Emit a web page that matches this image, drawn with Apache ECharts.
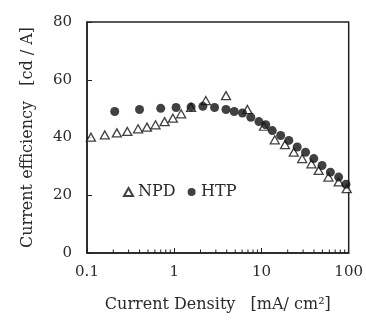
<!DOCTYPE html>
<html lang="en">
<head>
    <meta charset="utf-8" />
    <title>Current efficiency</title>
    <script type="text/javascript" src="https://cdn.jsdelivr.net/npm/echarts@6/dist/echarts.min.js"></script>
    <style type="text/css">
        html, body { margin: 0; padding: 0; background: #fff; }
    </style>
</head>
<body>
    <div id="main" style="width:366px;height:321px;"></div>
    <script type="text/javascript">
        // NPD (open triangles)
        var npd_x = [0.111, 0.16, 0.22, 0.29, 0.385, 0.487, 0.61, 0.775, 0.965, 1.2, 1.56, 2.3, 3.92, 6.9, 10.7, 14.2, 18.6, 23.5, 29.3, 37.4, 45.3, 58.6, 76.7, 95];
        var npd_y = [40.1, 40.9, 41.6, 42.1, 43.0, 43.6, 44.4, 45.5, 46.7, 48.2, 50.4, 52.8, 54.5, 49.7, 43.9, 39.2, 37.5, 34.9, 32.7, 30.9, 28.6, 26.3, 24.6, 22.3];
        // HTP (filled circles)
        var htp_x = [0.208, 0.40, 0.70, 1.05, 1.56, 2.13, 2.9, 3.92, 4.87, 6.06, 7.55, 9.35, 11.2, 13.3, 16.6, 20.6, 25.7, 32, 39.8, 49.5, 61.7, 76.7, 93];
        var htp_y = [49.0, 49.7, 50.1, 50.4, 50.6, 50.8, 50.4, 49.7, 49.0, 48.5, 47.0, 45.5, 44.4, 42.4, 40.7, 39.0, 36.7, 34.9, 32.7, 30.3, 28.0, 26.3, 23.8];
        // minor ticks of the log axis
        var minor_ticks = [0.2, 0.3, 0.4, 0.5, 0.6, 0.7, 0.8, 0.9, 2, 3, 4, 5, 6, 7, 8, 9, 20, 30, 40, 50, 60, 70, 80, 90];

        function zip(xs, ys) {
            var out = [];
            for (var i = 0; i < xs.length; i++) out.push([xs[i], ys[i]]);
            return out;
        }

        var font = 'DejaVu Serif';
        var ink = '#2a2a2a';
        var myChart = echarts.init(document.getElementById('main'));

        var option = {
            animation: false,
            textStyle: { fontFamily: font, color: ink },
            grid: {
                left: 87, right: 16, top: 22, bottom: 68,
                show: true, borderColor: '#222', borderWidth: 1.5
            },
            legend: {
                data: ['NPD', 'HTP'],
                left: 118, top: 179,
                itemWidth: 9, itemHeight: 8, itemGap: 12,
                textStyle: { fontFamily: font, fontSize: 16, color: ink }
            },
            xAxis: {
                type: 'log', logBase: 10, min: 0.1, max: 100,
                name: 'Current Density   [mA/ cm²]',
                nameLocation: 'middle', nameGap: 44,
                nameTextStyle: { fontFamily: font, fontSize: 16, color: ink },
                axisLine: { lineStyle: { color: '#222', width: 1.5 } },
                axisTick: { inside: true, length: 5, lineStyle: { color: '#222' } },
                axisLabel: { fontFamily: font, fontSize: 15, color: ink, margin: 12 },
                splitLine: { show: false }
            },
            yAxis: {
                type: 'value', min: 0, max: 80, interval: 20,
                name: 'Current efficiency   [cd / A]',
                nameLocation: 'middle', nameGap: 51,
                nameTextStyle: { fontFamily: font, fontSize: 16, color: ink },
                axisLine: { show: true, lineStyle: { color: '#222', width: 1.5 } },
                axisTick: { show: true, inside: true, length: 5, lineStyle: { color: '#222' } },
                axisLabel: { fontFamily: font, fontSize: 15, color: ink, margin: 15 },
                splitLine: { show: false }
            },
            series: [{
                type: 'custom',
                silent: true,
                data: minor_ticks.map(function (v) { return [v, 0]; }),
                renderItem: function (params, api) {
                    var p = api.coord([api.value(0), 0]);
                    return {
                        type: 'line',
                        shape: { x1: p[0], y1: p[1], x2: p[0], y2: p[1] - 3.5 },
                        style: { stroke: '#222', lineWidth: 1 }
                    };
                }
            }, {
                name: 'NPD',
                type: 'scatter',
                symbol: 'triangle',
                symbolSize: [9, 8],
                itemStyle: { color: '#fff', borderColor: '#111', borderWidth: 1.3 },
                data: zip(npd_x, npd_y)
            }, {
                name: 'HTP',
                type: 'scatter',
                symbol: 'circle',
                symbolSize: 9,
                itemStyle: { color: '#111' },
                data: zip(htp_x, htp_y)
            }]
        };
        myChart.setOption(option);
    </script>
</body>
</html>
